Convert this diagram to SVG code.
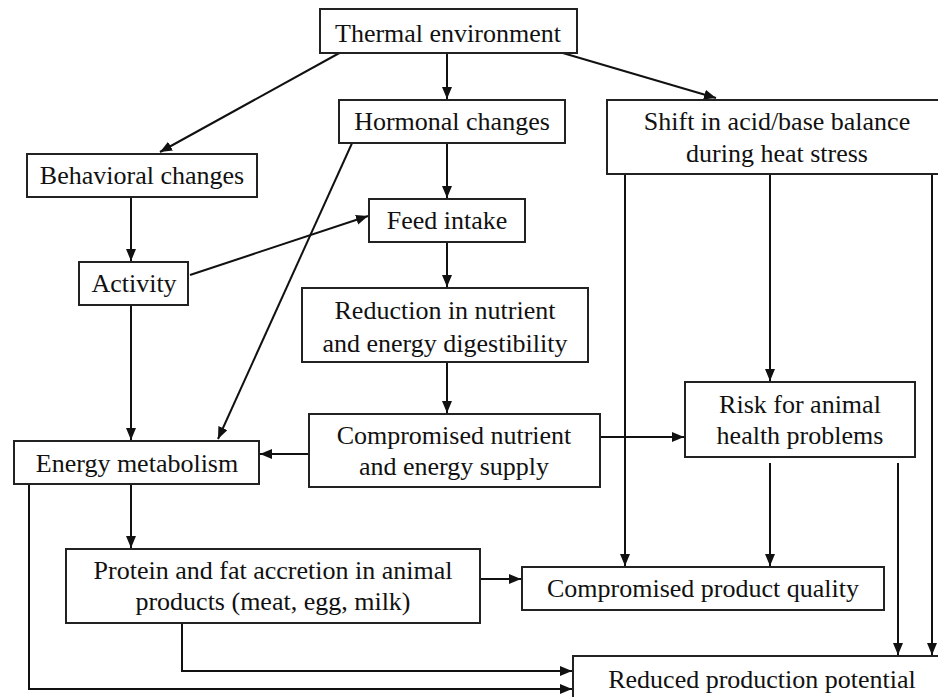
<svg xmlns="http://www.w3.org/2000/svg" width="938" height="697" viewBox="0 0 938 697">
<defs>
<marker id="ah" markerUnits="userSpaceOnUse" markerWidth="13" markerHeight="11" refX="12" refY="5" orient="auto">
<path d="M0,0 L12,5 L0,10 z" fill="#111"/>
</marker>
<style>
.box{fill:#fff;stroke:#222;stroke-width:2}
.t{font-family:"Liberation Serif","Times New Roman",serif;font-size:26px;fill:#111;text-anchor:middle}
.c{fill:none;stroke:#111;stroke-width:2}
.a{fill:none;stroke:#111;stroke-width:2;marker-end:url(#ah)}
</style>
</defs>
<rect width="938" height="697" fill="#fff"/>
<g id="connectors">
<line class="a" x1="447" y1="53" x2="447" y2="99"/>
<line class="a" x1="343" y1="51" x2="160" y2="152"/>
<line class="a" x1="556" y1="51" x2="716" y2="98"/>
<line class="a" x1="447" y1="143" x2="447" y2="198"/>
<line class="a" x1="131" y1="197" x2="131" y2="261"/>
<line class="a" x1="190" y1="275" x2="368" y2="216"/>
<line class="a" x1="447" y1="242" x2="447" y2="287"/>
<line class="a" x1="353" y1="141" x2="218" y2="439"/>
<line class="a" x1="131" y1="305" x2="131" y2="440"/>
<line class="a" x1="447" y1="362" x2="447" y2="413"/>
<line class="a" x1="309" y1="454" x2="260" y2="454"/>
<line class="a" x1="600" y1="437" x2="684" y2="437"/>
<line class="a" x1="131" y1="484" x2="131" y2="548"/>
<line class="a" x1="480" y1="579" x2="521" y2="579"/>
<line class="a" x1="625" y1="174" x2="625" y2="566"/>
<line class="a" x1="770" y1="174" x2="770" y2="381"/>
<line class="a" x1="770" y1="463" x2="770" y2="566"/>
<line class="a" x1="898" y1="463" x2="898" y2="655"/>
<line class="a" x1="932" y1="174" x2="932" y2="655"/>
<polyline class="a" points="182,623 182,671 572,671"/>
<polyline class="a" points="29,484 29,689 572,689"/>
</g>
<g id="thermal">
<rect class="box" x="320" y="9" width="257" height="44"/>
<text class="t" x="448" y="42">Thermal environment</text>
</g>
<g id="hormonal">
<rect class="box" x="339" y="100" width="226" height="43"/>
<text class="t" x="452" y="130">Hormonal changes</text>
</g>
<g id="shift">
<rect class="box" x="607" y="100" width="400" height="74"/>
<text class="t" x="777" y="130">Shift in acid/base balance</text>
<text class="t" x="777" y="162">during heat stress</text>
</g>
<g id="behavioral">
<rect class="box" x="27" y="154" width="230" height="43"/>
<text class="t" x="142" y="184">Behavioral changes</text>
</g>
<g id="feed">
<rect class="box" x="369" y="199" width="156" height="43"/>
<text class="t" x="447" y="229">Feed intake</text>
</g>
<g id="activity">
<rect class="box" x="79" y="262" width="109" height="43"/>
<text class="t" x="134" y="292">Activity</text>
</g>
<g id="reduction">
<rect class="box" x="302" y="288" width="286" height="74"/>
<text class="t" x="445" y="319">Reduction in nutrient</text>
<text class="t" x="445" y="352">and energy digestibility</text>
</g>
<g id="risk">
<rect class="box" x="685" y="382" width="230" height="75"/>
<text class="t" x="800" y="413">Risk for animal</text>
<text class="t" x="800" y="444">health problems</text>
</g>
<g id="compromised-supply">
<rect class="box" x="309" y="414" width="291" height="73"/>
<text class="t" x="454" y="444">Compromised nutrient</text>
<text class="t" x="454" y="475">and energy supply</text>
</g>
<g id="energy">
<rect class="box" x="14" y="441" width="245" height="43"/>
<text class="t" x="137" y="472">Energy metabolism</text>
</g>
<g id="protein">
<rect class="box" x="66" y="549" width="414" height="74"/>
<text class="t" x="273" y="579">Protein and fat accretion in animal</text>
<text class="t" x="273" y="610">products (meat, egg, milk)</text>
</g>
<g id="quality">
<rect class="box" x="522" y="567" width="362" height="43"/>
<text class="t" x="703" y="597">Compromised product quality</text>
</g>
<g id="reduced">
<rect class="box" x="573" y="656" width="420" height="80"/>
<text class="t" x="762" y="688">Reduced production potential</text>
</g>
</svg>
